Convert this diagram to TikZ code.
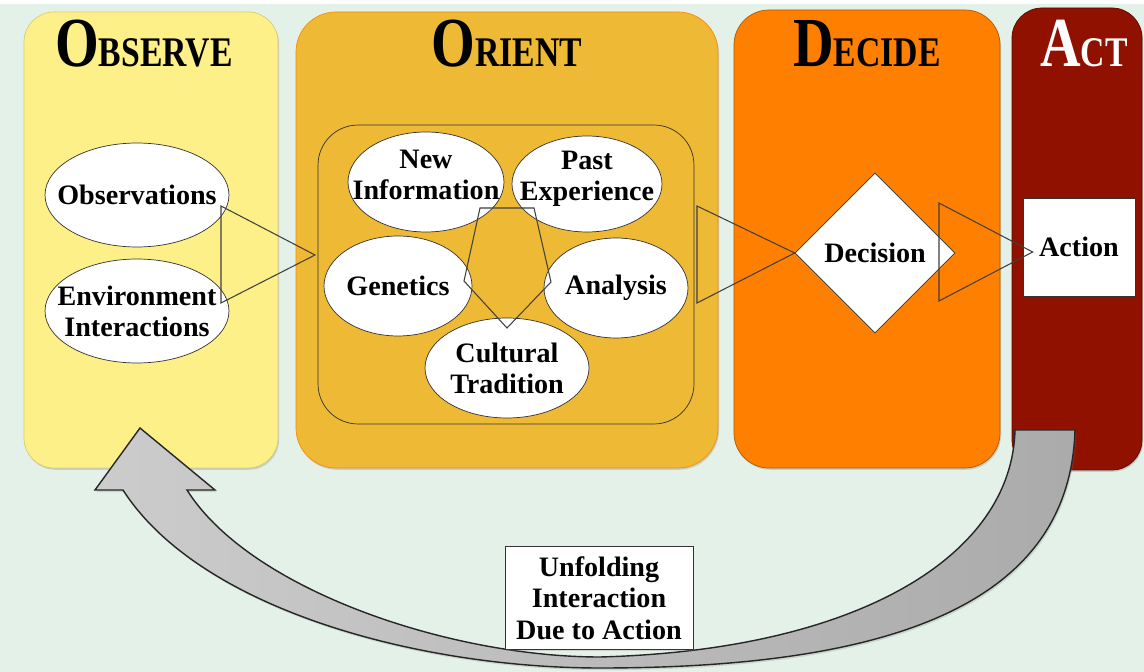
\documentclass[tikz,border=0pt]{standalone}
\usepackage{fontspec}
\setmainfont{Liberation Serif}
\newfontfamily\headfont{Liberation Serif}[FakeStretch=0.8]
\usetikzlibrary{calc,shapes.geometric,shadows}

\definecolor{mint}{RGB}{227,241,232}
\definecolor{obsfill}{RGB}{254,240,136}
\definecolor{orifill}{RGB}{238,185,52}
\definecolor{decfill}{RGB}{255,127,0}
\definecolor{actfill}{RGB}{145,17,0}

% big initial + small caps for the stage headings
\newcommand\headword[2]{{\headfont\bfseries\fontsize{40}{40}\selectfont #1\fontsize{24}{24}\selectfont #2}}

\begin{document}
\begin{tikzpicture}[x=0.02cm,y=-0.02cm,
  panel/.style={rounded corners=0.6cm,drop shadow={opacity=0.3,shadow xshift=0.6pt,shadow yshift=-1pt}},
  title/.style={anchor=base,inner sep=0pt},
  bubble/.style={ellipse,draw=black!80,fill=white,inner sep=0pt},
  every label/.style={align=center,inner sep=0pt,font=\fontsize{16}{17.6}\selectfont\bfseries},
  box/.style={draw=black!80,fill=white,inner sep=0pt,align=center,font=\fontsize{16}{17.9}\selectfont\bfseries,
    drop shadow={opacity=0.25,shadow xshift=0.6pt,shadow yshift=-0.8pt}},
  tri/.style={draw=black!75,line width=0.6pt}]
  \fill[white] (0,0) rectangle (1144,672);
  \fill[mint] (0,4) rectangle (1144,672);
  \useasboundingbox (0,0) rectangle (1144,672);

  % stage panels
  \path[panel,fill=obsfill,draw=obsfill!85!black] (24,12) rectangle (278,468);
  \path[panel,rounded corners=0.8cm,fill=orifill,draw=orange!80!orifill] (296,12) rectangle (718,468);
  \path[panel,rounded corners=0.7cm,fill=decfill,draw=decfill!70!black] (734,10) rectangle (1000,468);
  \path[panel,fill=actfill,draw=actfill!60!black] (1012,8) rectangle (1142,470);

  \node[title] (tobs) at (144,67) {\headword{O}{BSERVE}};
  \node[title] (tori) at (507,67) {\headword{O}{RIENT}};
  \node[title] (tdec) at (867,67) {\headword{D}{ECIDE}};
  \node[title,text=white] (tact) at (1084,67) {\headword{A}{CT}};

  \node[draw=black!80,rounded corners=0.8cm,minimum width=7.52cm,minimum height=5.98cm,inner sep=0pt] (core) at (506,274.5) {};

  \node[bubble,minimum width=3.68cm,minimum height=2.08cm,label=center:Observations] (obs) at (137,195) {};
  \node[bubble,minimum width=3.68cm,minimum height=2.08cm,label=center:Environment\\Interactions] (env) at (137,311) {};

  \node[bubble,minimum width=3.12cm,minimum height=2cm,label={[yshift=0.15cm]center:New\\Information}] (newinfo) at (426,182) {};
  \node[bubble,minimum width=3cm,minimum height=1.92cm,label={[yshift=0.1cm]center:Past\\Experience}] (past) at (587,184) {};
  \node[bubble,minimum width=2.96cm,minimum height=2cm,label=center:Genetics] (gen) at (398,286) {};
  \node[bubble,minimum width=2.88cm,minimum height=2cm,label=center:Analysis] (ana) at (616,288) {};
  \node[bubble,minimum width=3.28cm,minimum height=2cm,label=center:Cultural\\Tradition] (cult) at (507,368) {};
  \draw[tri] (480,208) -- (534,208) -- (551,282) -- (507,328) -- (464,281) -- cycle;

  \node[diamond,draw=black!80,fill=white,minimum width=3.2cm,minimum height=3.2cm,inner sep=0pt,
    font=\fontsize{16}{17.6}\selectfont\bfseries] (dec) at (875,253) {Decision};
  \node[box,minimum width=2.24cm,minimum height=1.96cm] (act) at (1079,247) {Action};

  % open triangles between the stages
  \coordinate (o1) at (221,206);
  \coordinate (o2) at (221,303);
  \coordinate (o3) at (315,255);
  \draw[tri] (o1) -- (o3) -- (o2) -- cycle;
  \coordinate (d1) at (697,206);
  \coordinate (d2) at (697,303);
  \draw[tri] (d1) -- (dec.west) -- (d2) -- cycle;
  \coordinate (a1) at (939,203);
  \coordinate (a2) at (939,301);
  \draw[tri] (a1) -- ($(act.west)+(10,5)$) -- (a2) -- cycle;

  % feedback arrow from act back to observe
  \path[draw=black!85,line width=0.8pt,left color=gray!40,right color=gray!66,
    drop shadow={opacity=0.25,shadow xshift=0.8pt,shadow yshift=-1.2pt}]
    (1015,430) -- (1075,430) .. controls (1070,600) and (900,668) .. (600,668)
    .. controls (420,668) and (200,610) .. (123,490) -- (95,490) -- (140,428) -- (215,490) -- (187,490)
    .. controls (250,590) and (450,657) .. (600,657) .. controls (860,650) and (1012,555) .. (1015,430) -- cycle;

  \node[box,minimum width=3.76cm,minimum height=2.06cm] (unfold) at (599,598) {Unfolding\\Interaction\\Due to Action};
\end{tikzpicture}
\end{document}
